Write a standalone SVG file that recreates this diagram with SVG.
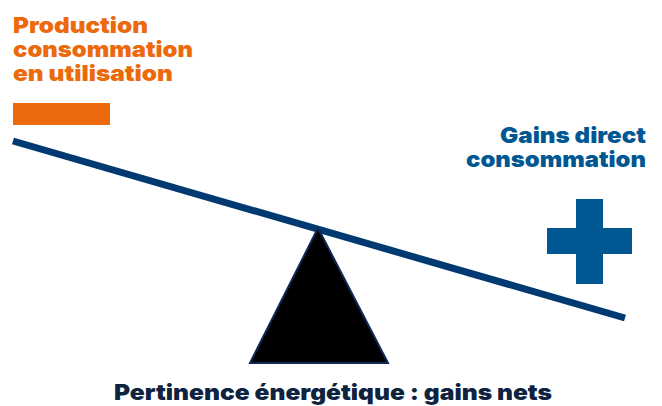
<svg xmlns="http://www.w3.org/2000/svg" width="662" height="406" viewBox="0 0 662 406">
<style>
.t{font-family:Inter,"Open Sans","Liberation Sans",sans-serif;font-weight:900;font-size:22px}
.or{fill:#EC6A0C}
.bl{fill:#005792}
.nv{fill:#0E2340}
</style>
<rect width="662" height="406" fill="#ffffff"/>
<g id="label-left">
<text class="t or" x="13" y="33" textLength="135" lengthAdjust="spacingAndGlyphs">Production</text>
<text class="t or" x="13" y="57" textLength="180" lengthAdjust="spacingAndGlyphs">consommation</text>
<text class="t or" x="13" y="81" textLength="160" lengthAdjust="spacingAndGlyphs">en utilisation</text>
</g>
<g id="minus">
<rect x="13" y="103" width="97" height="22" fill="#EC6A0C"/>
</g>
<g id="label-right">
<text class="t bl" x="646" y="143" text-anchor="end" textLength="146" lengthAdjust="spacingAndGlyphs">Gains direct</text>
<text class="t bl" x="646" y="167" text-anchor="end" textLength="180" lengthAdjust="spacingAndGlyphs">consommation</text>
</g>
<g id="plus" fill="#005792">
<rect x="576" y="199" width="27" height="85"/>
<rect x="547" y="228" width="85" height="26"/>
</g>
<g id="connectors">
<line x1="13" y1="141" x2="625" y2="318" stroke="#003A70" stroke-width="7"/>
</g>
<g id="fulcrum">
<polygon points="318,228 250,363 388,363" fill="#000000" stroke="#0E2A55" stroke-width="2"/>
</g>
<g id="caption">
<text class="t nv" x="333" y="400" text-anchor="middle" textLength="438" lengthAdjust="spacingAndGlyphs">Pertinence énergétique : gains nets</text>
</g>
</svg>
